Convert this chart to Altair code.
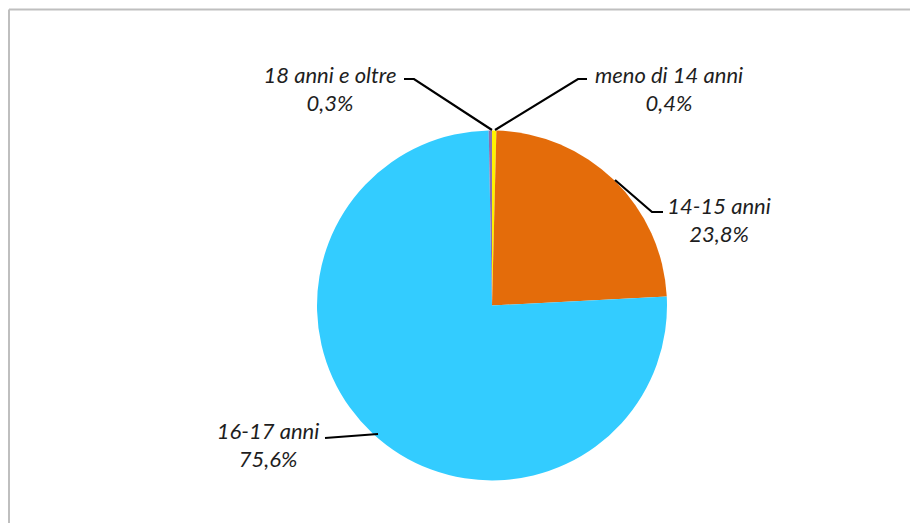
import altair as alt
import pandas as pd

# ---- data ----
categories = ["meno di 14 anni", "14-15 anni", "16-17 anni", "18 anni e oltre"]
values = [0.4, 23.8, 75.6, 0.3]
colors = ["#FFF200", "#E46C0A", "#33CCFF", "#8A6FB0"]

# ---- layout (pixels inside the chart) ----
W, H = 902, 515
CX, CY, R = 484, 297.5, 175
label_pos = {  # centre of the first label line
    "meno di 14 anni": (661, 68),
    "14-15 anni": (711, 199),
    "16-17 anni": (260, 424),
    "18 anni e oltre": (322, 68),
}
leader_pts = {
    "meno di 14 anni": [(487, 122), (570, 71), (579, 71)],
    "14-15 anni": [(607, 172), (644, 204), (655, 204)],
    "16-17 anni": [(317, 430), (370, 426)],
    "18 anni e oltre": [(396, 71), (406, 71), (484, 122)],
}

df = pd.DataFrame({"cat": categories, "value": values, "idx": range(len(categories))})

def fmt(v):
    return f"{v:.1f}".replace(".", ",") + "%"

lab = pd.DataFrame({
    "cat": categories,
    "text": [f"{c}\n{fmt(v)}" for c, v in zip(categories, values)],
    "px": [label_pos[c][0] for c in categories],
    "py": [label_pos[c][1] for c in categories],
})

rows = []
for c in categories:
    for i, (x, y) in enumerate(leader_pts[c]):
        rows.append({"cat": c, "i": i, "px": x, "py": y})
lead = pd.DataFrame(rows)

border = pd.DataFrame({"seg": ["l", "l", "t", "t"], "i": [0, 1, 0, 1],
                       "px": [1, 1, 1, W], "py": [H, 1.5, 1.5, 1.5]})

pie = alt.Chart(df).mark_arc(outerRadius=R).encode(
    theta=alt.Theta("value:Q", stack=True),
    order=alt.Order("idx:Q"),
    color=alt.Color("cat:N", scale=alt.Scale(domain=categories, range=colors), legend=None),
    x=alt.value(CX),
    y=alt.value(CY),
)

texts = alt.Chart(lab).mark_text(
    font="Lato", fontStyle="italic", fontSize=22, color="#1E1E1E",
    lineBreak="\n", lineHeight=28, align="center", baseline="middle",
).encode(
    x=alt.X("px:Q", scale=None, axis=None),
    y=alt.Y("py:Q", scale=None, axis=None),
    text="text:N",
)

leaders = alt.Chart(lead).mark_line(color="#000000", strokeWidth=2.2).encode(
    x=alt.X("px:Q", scale=None, axis=None),
    y=alt.Y("py:Q", scale=None, axis=None),
    detail="cat:N",
    order="i:Q",
)

frame = alt.Chart(border).mark_line(color="#BFBFBF", strokeWidth=2).encode(
    x=alt.X("px:Q", scale=None, axis=None),
    y=alt.Y("py:Q", scale=None, axis=None),
    detail="seg:N",
    order="i:Q",
)

chart = alt.layer(frame, pie, leaders, texts).properties(
    width=W, height=H, autosize=alt.AutoSizeParams(type="none"), padding=0,
    background="white",
).configure_view(stroke=None)

chart.save("out.html", embed_options={"renderer": "svg", "actions": False})
